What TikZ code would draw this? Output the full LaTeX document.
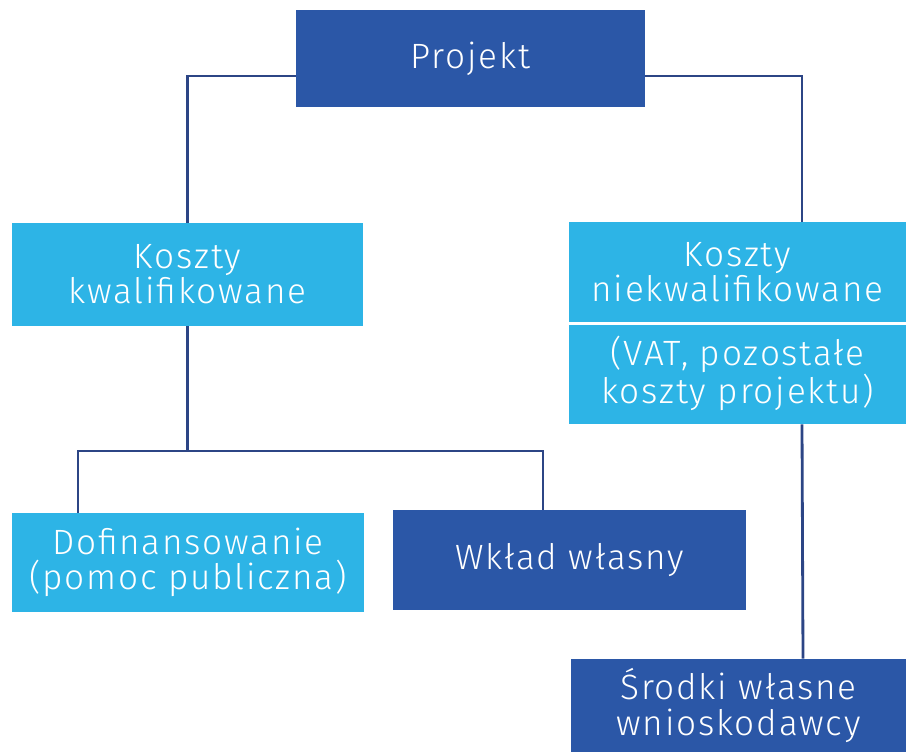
\documentclass[tikz,border=0pt]{standalone}
\usepackage{fontspec}
\setmainfont{Fira Sans Light}[LetterSpace=5]
\definecolor{ciemny}{HTML}{2B57A7}
\definecolor{jasny}{HTML}{2DB4E6}
\definecolor{linia}{HTML}{2C4585}
\begin{document}
\begin{tikzpicture}[x=0.2mm, y=-0.2mm,
		pole/.style = {inner sep=0pt, align=center, text=white,
				font=\fontsize{20}{20}\selectfont},
		ciemne/.style = {pole, fill=ciemny},
		jasne/.style = {pole, fill=jasny},
		link/.style = {draw=linia, line width=1.6pt}]
	\useasboundingbox (0,0) rectangle (906,752);

	\node [ciemne, minimum width=69.8mm, minimum height=19.4mm] (proj) at (470.5,58.5) {Projekt};

	\node [jasne, minimum width=70.2mm, minimum height=20.6mm] (kwal) at (187.5,274.5) {Koszty\\kwalifikowane};
	\node [jasne, minimum width=67.4mm, minimum height=20.2mm] (niekw) at (737.5,272.5) {Koszty\\niekwalifikowane};
	\node [jasne, minimum width=67.4mm, minimum height=20.2mm] (vat) at (737.5,373.5) {(VAT, pozostałe\\koszty projektu)};
	\draw [white, line width=1.5pt] (niekw.south west) -- (niekw.south east);

	\node [jasne, minimum width=70.4mm, minimum height=19.8mm] (dof) at (188,562.5) {Dofinansowanie\\(pomoc publiczna)};
	\node [ciemne, minimum width=70.6mm, minimum height=20mm] (wklad) at (569.5,560) {Wkład własny};
	\node [ciemne, minimum width=67mm, minimum height=18.6mm] (srodki) at (738.5,705.5) {Środki własne\\wnioskodawcy};

	\draw [link] ([yshift=-3.5mm]proj.west) -| (kwal.north);
	\draw [link] ([yshift=-3.5mm]proj.east) -| ([xshift=12.9mm]niekw.north);

	\coordinate (podzial) at (187.5,451);
	\draw [link] (kwal.south) -- (podzial);
	\draw [link] (podzial) -| ([xshift=-22mm]dof.north);
	\draw [link] (podzial) -| ([xshift=-5.3mm]wklad.north);

	\draw [link] ([xshift=12.9mm]vat.south) -- ([xshift=12.9mm]srodki.north);
\end{tikzpicture}
\end{document}
